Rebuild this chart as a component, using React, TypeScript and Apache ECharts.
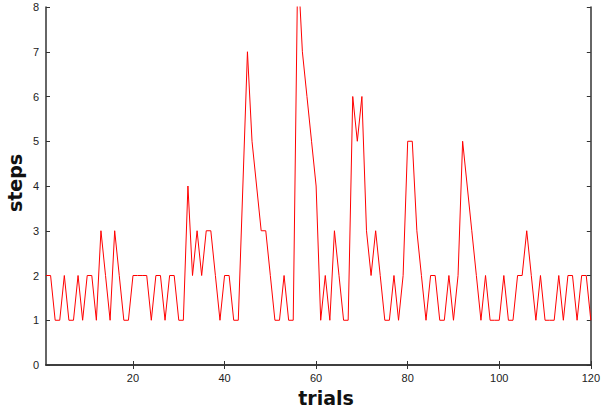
import React, { useEffect, useRef } from "react";
import * as echarts from "echarts";

const trials: number[] = Array.from({ length: 120 }, (_, i) => i + 1);
const steps: number[] = [
  2, 2, 1, 1, 2, 1, 1, 2, 1, 2,
  2, 1, 3, 2, 1, 3, 2, 1, 1, 2,
  2, 2, 2, 1, 2, 2, 1, 2, 2, 1,
  1, 4, 2, 3, 2, 3, 3, 2, 1, 2,
  2, 1, 1, 4, 7, 5, 4, 3, 3, 2,
  1, 1, 2, 1, 1, 9, 7, 6, 5, 4,
  1, 2, 1, 3, 2, 1, 1, 6, 5, 6,
  3, 2, 3, 2, 1, 1, 2, 1, 2, 5,
  5, 3, 2, 1, 2, 2, 1, 1, 2, 1,
  2, 5, 4, 3, 2, 1, 2, 1, 1, 1,
  2, 1, 1, 2, 2, 3, 2, 1, 2, 1,
  1, 1, 2, 1, 2, 2, 1, 2, 2, 1,
];
const xTickValues: number[] = [20, 40, 60, 80, 100, 120];
const xName = "trials";
const yName = "steps";

const FONT = "'Liberation Sans', Arial, sans-serif";

export default function App() {
  const ref = useRef<HTMLDivElement>(null);
  useEffect(() => {
    if (!ref.current) return;
    const chart = echarts.init(ref.current, null, { renderer: "svg" });
    const axisLine = { show: true, lineStyle: { color: "#333", width: 1.5 } };
    const tick = { show: true, inside: true, length: 4, lineStyle: { color: "#333", width: 1 } };
    chart.setOption({
      animation: false,
      backgroundColor: "#ffffff",
      grid: { left: 46, right: 11, top: 7, bottom: 44, containLabel: false },
      xAxis: [
        {
          type: "value",
          min: 1,
          max: 120,
          position: "bottom",
          axisLine,
          axisTick: { ...tick, customValues: xTickValues },
          axisLabel: { customValues: xTickValues, color: "#222", fontSize: 11, margin: 7, fontFamily: FONT },
          splitLine: { show: false },
        },
        {
          type: "value",
          min: 1,
          max: 120,
          position: "top",
          axisLine,
          axisTick: { ...tick, customValues: xTickValues },
          axisLabel: { show: false },
          splitLine: { show: false },
        },
      ],
      yAxis: [
        {
          type: "value",
          min: 0,
          max: 8,
          interval: 1,
          position: "left",
          axisLine,
          axisTick: tick,
          axisLabel: { color: "#222", fontSize: 11, margin: 7, fontFamily: FONT },
          splitLine: { show: false },
        },
        {
          type: "value",
          min: 0,
          max: 8,
          interval: 1,
          position: "right",
          axisLine,
          axisTick: tick,
          axisLabel: { show: false },
          splitLine: { show: false },
        },
      ],
      series: [
        {
          type: "line",
          xAxisIndex: 0,
          yAxisIndex: 0,
          data: trials.map((t, i) => [t, steps[i]]),
          showSymbol: false,
          symbol: "none",
          clip: true,
          lineStyle: { color: "#ff0000", width: 1 },
        },
      ],
      graphic: [
        {
          type: "text",
          x: 326,
          y: 398,
          style: {
            text: xName,
            font: `bold 19px 'DejaVu Sans', sans-serif`,
            fill: "#111",
            textAlign: "center",
            textVerticalAlign: "middle",
          },
        },
        {
          type: "text",
          x: 15,
          y: 183,
          rotation: Math.PI / 2,
          style: {
            text: yName,
            font: `bold 19px 'DejaVu Sans', sans-serif`,
            fill: "#111",
            textAlign: "center",
            textVerticalAlign: "middle",
          },
        },
      ],
    });
    return () => chart.dispose();
  }, []);
  return (
    <div
      ref={ref}
      style={{ position: "absolute", left: 0, top: 0, width: 603, height: 409 }}
    />
  );
}
